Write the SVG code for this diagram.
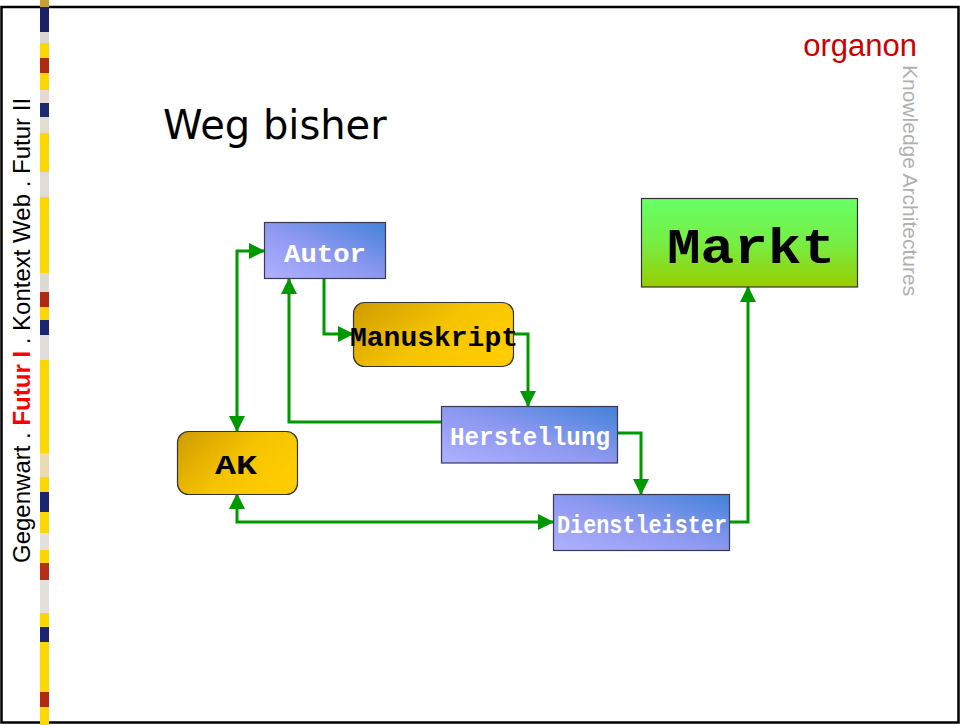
<svg xmlns="http://www.w3.org/2000/svg" width="962" height="725" viewBox="0 0 962 725">
<defs>
<style>
.blue{stroke:#3a3a55;stroke-width:1.2;fill:url(#gBlue)}
.gold{stroke:#333;stroke-width:1.2;fill:url(#gGold)}
.lblW{font-family:"Liberation Mono","Courier New",monospace;font-weight:bold;fill:#ffffff;text-anchor:middle}
.lblB{font-family:"Liberation Mono","Courier New",monospace;font-weight:bold;fill:#000000;text-anchor:middle}
.conn{fill:none;stroke:#009900;stroke-width:3}
</style>
<linearGradient id="gBlue" x1="0" y1="1" x2="1" y2="0">
<stop offset="0" stop-color="#b0b0ff"/>
<stop offset="0.5" stop-color="#8c98f0"/>
<stop offset="1" stop-color="#4282d8"/>
</linearGradient>
<linearGradient id="gGold" x1="0" y1="0" x2="1" y2="0.5">
<stop offset="0" stop-color="#d09c00"/>
<stop offset="0.6" stop-color="#f5c400"/>
<stop offset="1" stop-color="#ffcc00"/>
</linearGradient>
<linearGradient id="gGreen" x1="0" y1="0" x2="0" y2="1">
<stop offset="0" stop-color="#66ff66"/>
<stop offset="0.5" stop-color="#77ee44"/>
<stop offset="1" stop-color="#99cc00"/>
</linearGradient>
<marker id="arr" markerUnits="userSpaceOnUse" markerWidth="16" markerHeight="16" viewBox="0 0 16 16" refX="15" refY="8" orient="auto-start-reverse">
<path d="M0,0 L16,8 L0,16 Z" fill="#009900"/>
</marker>
</defs>
<rect x="0" y="0" width="962" height="725" fill="#ffffff"/>
<rect x="1.5" y="7" width="957" height="715.5" fill="none" stroke="#000" stroke-width="2.5"/>

<g id="colorbar">
<rect x="40" y="0" width="9" height="725" fill="#ffd700"/>
<rect x="40" y="0" width="9" height="7" fill="#c8a030"/>
<rect x="40" y="7" width="9" height="25" fill="#1a2068"/>
<rect x="40" y="32" width="9" height="11" fill="#dcd6d0"/>
<rect x="40" y="58" width="9" height="15" fill="#b02a10"/>
<rect x="40" y="90" width="9" height="13" fill="#e8d8d4"/>
<rect x="40" y="103" width="9" height="14" fill="#1a2a70"/>
<rect x="40" y="117" width="9" height="16" fill="#e4dccc"/>
<rect x="40" y="172" width="9" height="25" fill="#e0dcd8"/>
<rect x="40" y="273" width="9" height="19" fill="#dcd8d4"/>
<rect x="40" y="292" width="9" height="15" fill="#b02a10"/>
<rect x="40" y="320" width="9" height="15" fill="#1a2470"/>
<rect x="40" y="335" width="9" height="25" fill="#e0dcd8"/>
<rect x="40" y="453" width="9" height="24" fill="#eadcb0"/>
<rect x="40" y="492" width="9" height="20" fill="#1a2470"/>
<rect x="40" y="533" width="9" height="17" fill="#e4e0dc"/>
<rect x="40" y="563" width="9" height="17" fill="#b53012"/>
<rect x="40" y="580" width="9" height="33" fill="#e4e0dc"/>
<rect x="40" y="627" width="9" height="15" fill="#1a2470"/>
<rect x="40" y="692" width="9" height="15" fill="#b02a10"/>
</g>

<g id="sidebar-text">
<text transform="translate(30,563) rotate(-90)" font-family="'Liberation Sans',Arial,sans-serif" font-size="24" fill="#000">Gegenwart . <tspan fill="#ff0000" font-weight="bold">Futur I</tspan> . Kontext Web . Futur II</text>
</g>

<g id="brand">
<text x="917" y="56" text-anchor="end" font-family="'Liberation Sans',Arial,sans-serif" font-size="31" fill="#cc0000">organon</text>
<text transform="translate(903,65) rotate(90)" font-family="'Liberation Sans',Arial,sans-serif" font-size="21" fill="#b0b0b0">Knowledge Architectures</text>
</g>

<g id="title">
<text x="163" y="139" font-family="'DejaVu Sans',Verdana,sans-serif" font-size="40" fill="#000">Weg bisher</text>
</g>

<g id="connectors">
<polyline class="conn" points="237,431 237,251 264,251" marker-start="url(#arr)" marker-end="url(#arr)"/>
<polyline class="conn" points="324,279 324,334 353,334" marker-end="url(#arr)"/>
<polyline class="conn" points="513,334 528,334 528,406" marker-end="url(#arr)"/>
<polyline class="conn" points="441,422 289,422 289,279" marker-end="url(#arr)"/>
<polyline class="conn" points="617,433 641,433 641,494" marker-end="url(#arr)"/>
<polyline class="conn" points="237,494 237,522 553,522" marker-start="url(#arr)" marker-end="url(#arr)"/>
<polyline class="conn" points="729,522 748,522 748,287" marker-end="url(#arr)"/>
</g>

<g id="node-autor">
<rect class="blue" x="264.5" y="222.5" width="121" height="56"/>
<text class="lblW" x="325" y="262" font-size="25" textLength="82" lengthAdjust="spacingAndGlyphs">Autor</text>
</g>

<g id="node-manuskript">
<rect class="gold" x="353.5" y="302.5" width="160" height="64" rx="11"/>
<text class="lblB" x="434" y="346" font-size="27" textLength="168" lengthAdjust="spacingAndGlyphs">Manuskript</text>
</g>

<g id="node-herstellung">
<rect class="blue" x="441.5" y="406.5" width="176" height="56.5"/>
<text class="lblW" x="530" y="445" font-size="26" textLength="160" lengthAdjust="spacingAndGlyphs">Herstellung</text>
</g>

<g id="node-ak">
<rect class="gold" x="177.5" y="431.5" width="120" height="63" rx="11"/>
<text class="lblB" x="236" y="474" font-size="27" textLength="42" lengthAdjust="spacingAndGlyphs">AK</text>
</g>

<g id="node-dienstleister">
<rect class="blue" x="553.5" y="494.5" width="176" height="56"/>
<text class="lblW" x="642" y="533" font-size="26" textLength="170" lengthAdjust="spacingAndGlyphs">Dienstleister</text>
</g>

<g id="node-markt">
<rect x="641.5" y="198.5" width="216" height="88.5" fill="url(#gGreen)" stroke="#333" stroke-width="1.2"/>
<text class="lblB" x="751" y="263" font-size="50" textLength="168" lengthAdjust="spacingAndGlyphs">Markt</text>
</g>
</svg>
